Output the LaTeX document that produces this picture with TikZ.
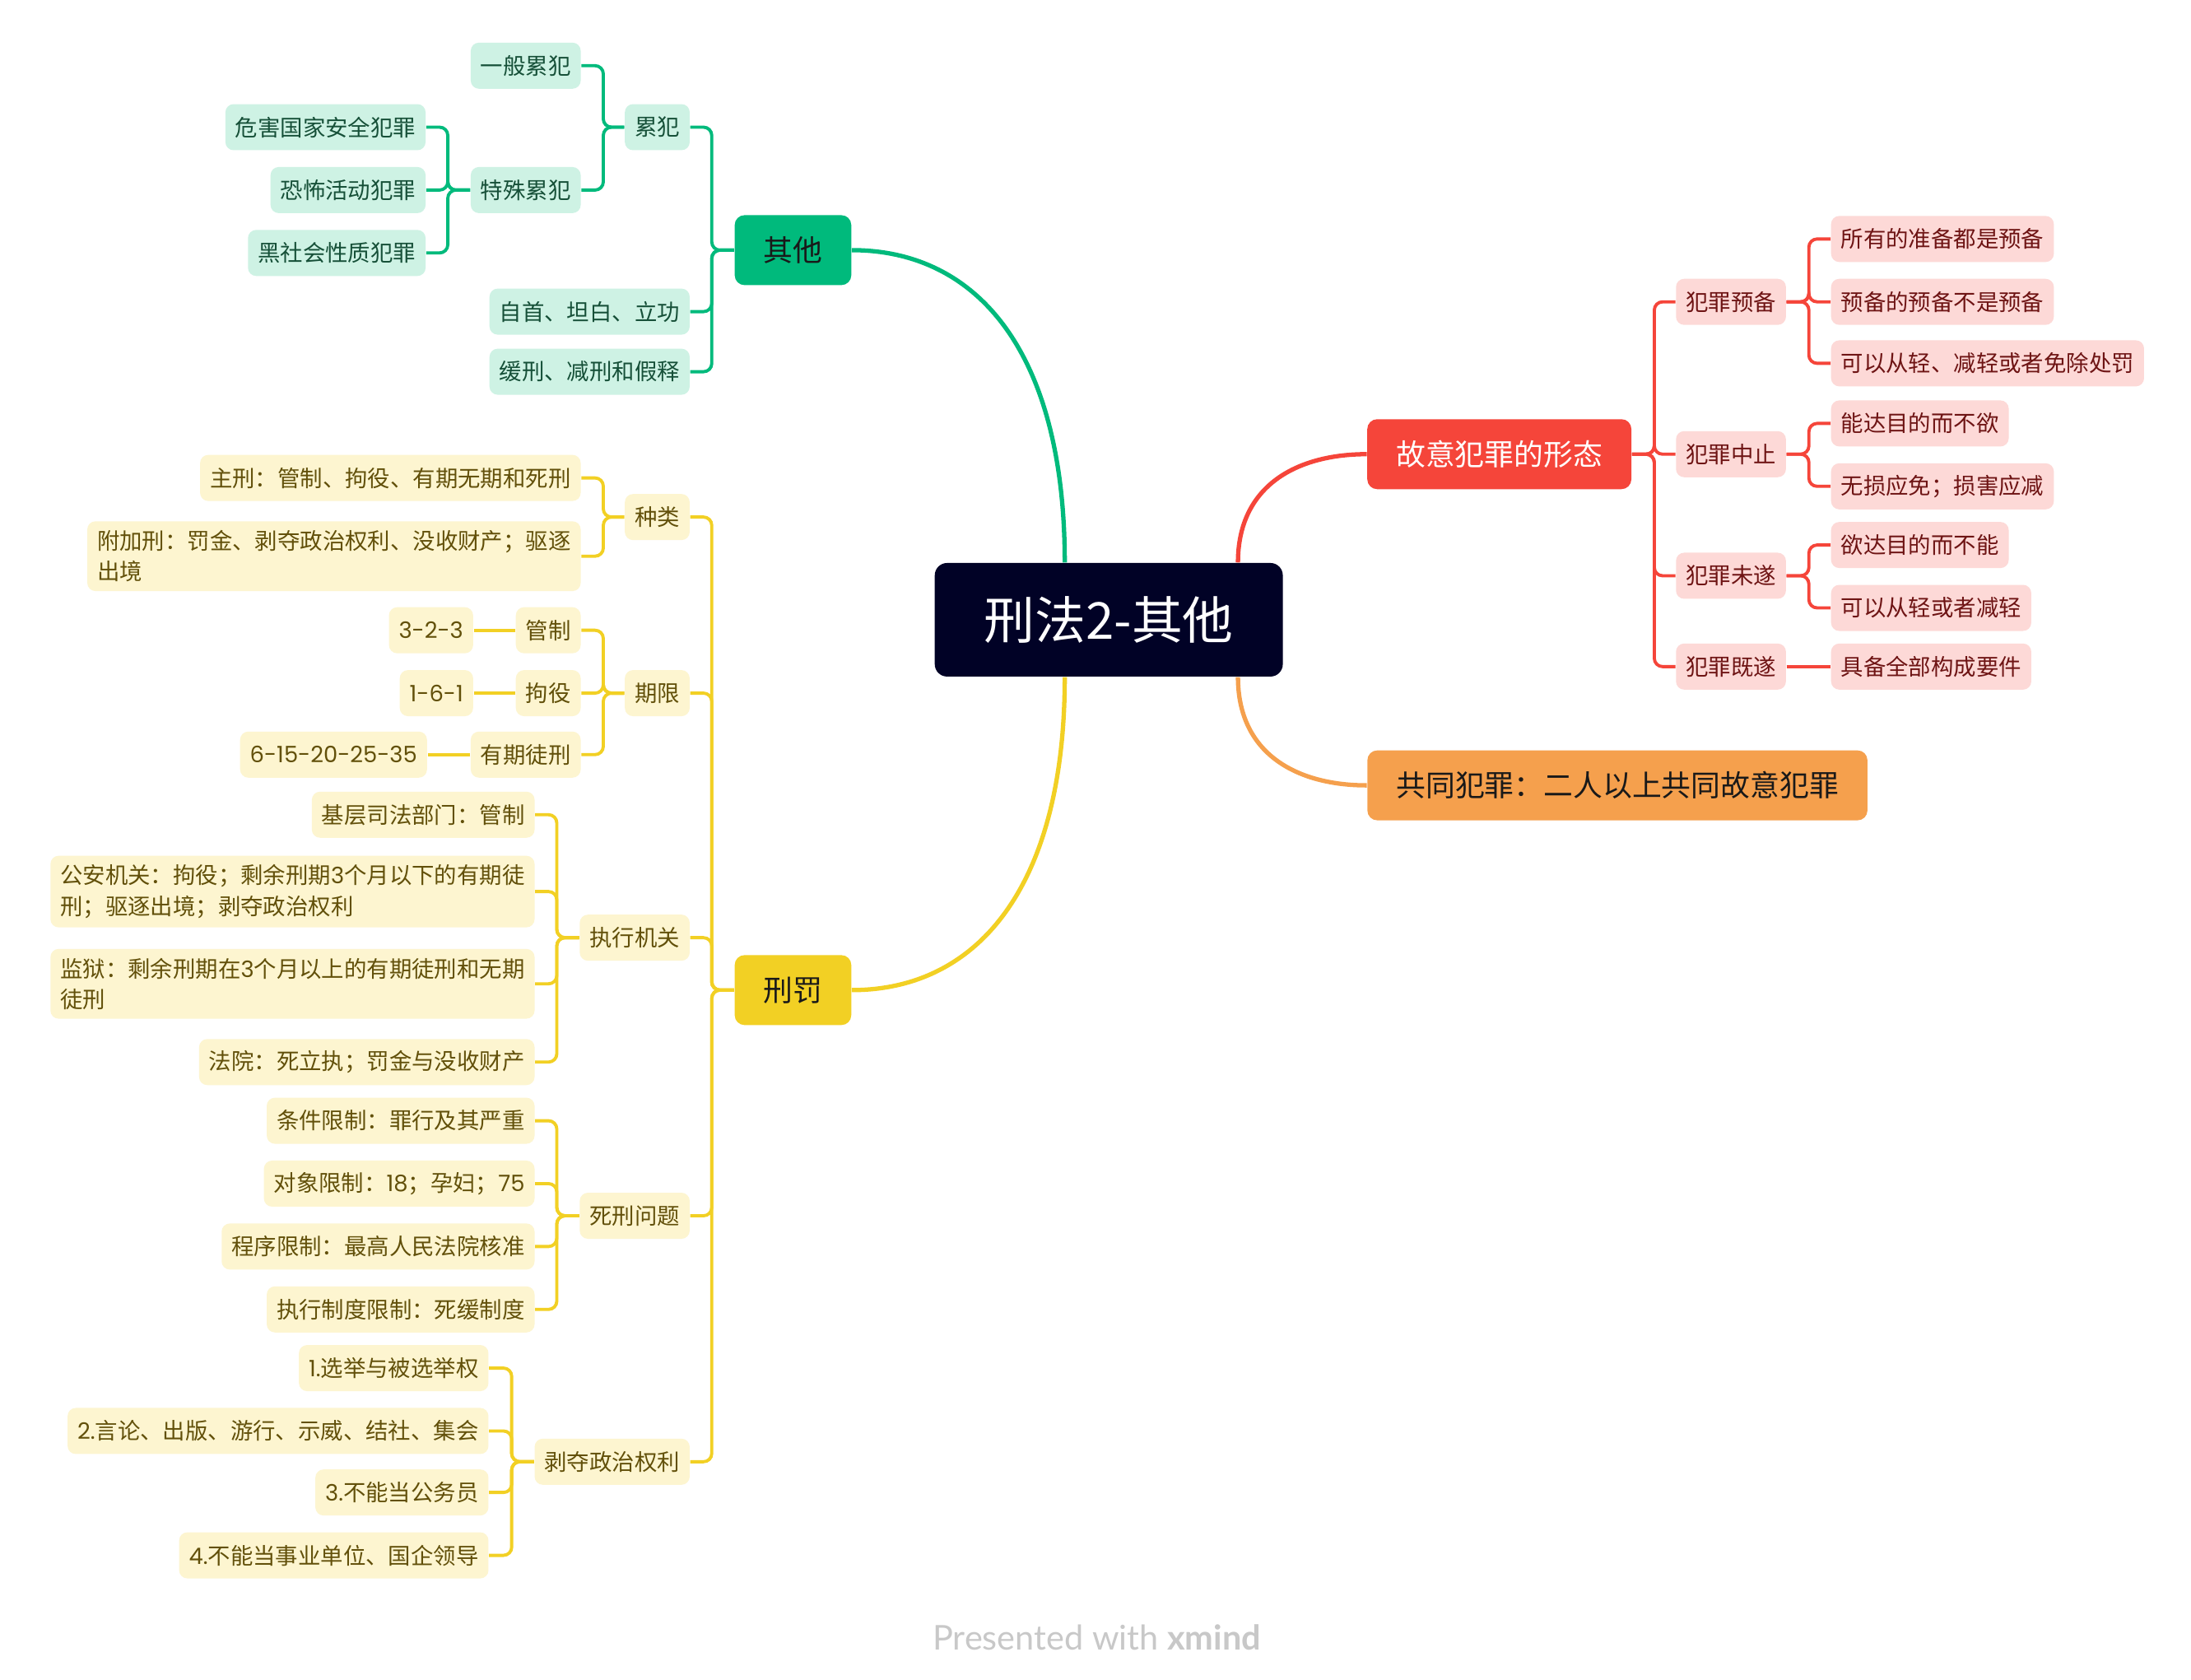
\documentclass[tikz,border=0pt]{standalone}
\usepackage{fontspec}
\setmainfont{Noto Sans CJK SC}
\newfontfamily\wmfont{Lato}
\newfontfamily\numfont{Poppins}
\newcommand{\nm}[1]{{\numfont #1}}
\definecolor{navy}{RGB}{1,2,38}
\definecolor{gmain}{RGB}{0,186,124}
\definecolor{glight}{RGB}{206,242,228}
\definecolor{gtext}{RGB}{22,80,56}
\definecolor{ymain}{RGB}{242,208,36}
\definecolor{ylight}{RGB}{253,245,208}
\definecolor{ytext}{RGB}{98,80,10}
\definecolor{rmain}{RGB}{245,69,58}
\definecolor{rlight}{RGB}{253,217,215}
\definecolor{rtext}{RGB}{110,20,20}
\definecolor{omain}{RGB}{245,160,77}
\definecolor{wmgray}{RGB}{200,200,200}

\begin{document}
\begin{tikzpicture}[
    x=0.016977cm, y=-0.016977cm,
    central/.style={rounded corners=0.15cm, fill=navy, text=white,
                    minimum width=4.23cm, minimum height=1.38cm,
                    font=\fontsize{17.6pt}{20pt}\selectfont},
    topic/.style={rounded corners=0.12cm, minimum height=0.85cm,
                  inner xsep=0.35cm, text=black!90,
                  font=\fontsize{10.2pt}{12pt}\selectfont},
    leaf/.style={rounded corners=0.1cm, minimum height=0.56cm,
                 inner xsep=0.12cm, inner ysep=0.11cm, align=left,
                 font=\fontsize{7.8pt}{10.6pt}\selectfont},
    gleaf/.style={leaf, fill=glight, text=gtext, anchor=east},
    yleaf/.style={leaf, fill=ylight, text=ytext, anchor=east},
    rleaf/.style={leaf, fill=rlight, text=rtext, anchor=west},
    gline/.style={draw=gmain, line width=1.1pt, rounded corners=0.1cm},
    yline/.style={draw=ymain, line width=1.1pt, rounded corners=0.1cm},
    rline/.style={draw=rmain, line width=1.1pt, rounded corners=0.1cm}]
  \useasboundingbox (0,0) rectangle (1568,1202);
  \fill[white] (0,0) rectangle (1568,1202);

  % root and main topics
  \node[central] (ctr) at (793.5,443.5) {刑法2-其他};
  \node[topic, fill=gmain] (qt) at (567.5,179) {其他};
  \node[topic, fill=ymain] (xf) at (567.5,708.5) {刑罚};
  \node[topic, fill=rmain, text=white] (gy) at (1073,325) {故意犯罪的形态};
  \node[topic, fill=omain] (gt) at (1157.5,562) {共同犯罪：二人以上共同故意犯罪};

  \draw[gmain, line width=1.5pt] ([xshift=-0.535cm]ctr.north)
    .. controls +(0,-150) and +(90,0) .. (qt.east);
  \draw[ymain, line width=1.5pt] ([xshift=-0.535cm]ctr.south)
    .. controls +(0,150) and +(90,0) .. (xf.east);
  \draw[rmain, line width=1.5pt] ([xshift=1.57cm]ctr.north)
    .. controls +(0,-55) and +(-50,0) .. (gy.west);
  \draw[omain, line width=1.5pt] ([xshift=1.57cm]ctr.south)
    .. controls +(0,55) and +(-50,0) .. (gt.west);

  % 其他
  \node[gleaf] (lf) at (494,91) {累犯};
  \node[gleaf] (lfa) at (416,47) {一般累犯};
  \node[gleaf] (lfb) at (416,136) {特殊累犯};
  \node[gleaf] (lfb1) at (305,91) {危害国家安全犯罪};
  \node[gleaf] (lfb2) at (305,136) {恐怖活动犯罪};
  \node[gleaf] (lfb3) at (305,181) {黑社会性质犯罪};
  \node[gleaf] (zs) at (494,223) {自首、坦白、立功};
  \node[gleaf] (hx) at (494,266) {缓刑、减刑和假释};
  \foreach \c in {lf,zs,hx}
    \draw[gline] (qt.west) -- ++(-16,0) |- (\c.east);
  \foreach \c in {lfa,lfb}
    \draw[gline] (lf.west) -- ++(-15,0) |- (\c.east);
  \foreach \c in {lfb1,lfb2,lfb3}
    \draw[gline] (lfb.west) -- ++(-16,0) |- (\c.east);

  % 刑罚
  \node[yleaf] (zl) at (494,370) {种类};
  \node[yleaf] (zl1) at (416,342) {主刑：管制、拘役、有期无期和死刑};
  \node[yleaf] (zl2) at (416,398) {附加刑：罚金、剥夺政治权利、没收财产；驱逐\\出境};
  \node[yleaf] (qx) at (494,496) {期限};
  \node[yleaf] (qx1) at (416,451) {管制};
  \node[yleaf] (qx1v) at (339,451) {\nm{3-2-3}};
  \node[yleaf] (qx2) at (416,496) {拘役};
  \node[yleaf] (qx2v) at (339,496) {\nm{1-6-1}};
  \node[yleaf] (qx3) at (416,540) {有期徒刑};
  \node[yleaf] (qx3v) at (306,540) {\nm{6-15-20-25-35}};
  \node[yleaf] (jg) at (494,671) {执行机关};
  \node[yleaf] (jg1) at (383,583) {基层司法部门：管制};
  \node[yleaf] (jg2) at (383,638) {公安机关：拘役；剩余刑期\nm{3}个月以下的有期徒\\刑；驱逐出境；剥夺政治权利};
  \node[yleaf] (jg3) at (383,704) {监狱：剩余刑期在\nm{3}个月以上的有期徒刑和无期\\徒刑};
  \node[yleaf] (jg4) at (383,760) {法院：死立执；罚金与没收财产};
  \node[yleaf] (sx) at (494,870) {死刑问题};
  \node[yleaf] (sx1) at (383,802) {条件限制：罪行及其严重};
  \node[yleaf] (sx2) at (383,847) {对象限制：\nm{18}；孕妇；\nm{75}};
  \node[yleaf] (sx3) at (383,892) {程序限制：最高人民法院核准};
  \node[yleaf] (sx4) at (383,937) {执行制度限制：死缓制度};
  \node[yleaf] (bd) at (494,1046) {剥夺政治权利};
  \node[yleaf] (bd1) at (350,979) {\nm{1.}选举与被选举权};
  \node[yleaf] (bd2) at (350,1024) {\nm{2.}言论、出版、游行、示威、结社、集会};
  \node[yleaf] (bd3) at (350,1068) {\nm{3.}不能当公务员};
  \node[yleaf] (bd4) at (350,1113) {\nm{4.}不能当事业单位、国企领导};
  \foreach \c in {zl,qx,jg,sx,bd}
    \draw[yline] (xf.west) -- ++(-16,0) |- (\c.east);
  \foreach \c in {zl1,zl2}
    \draw[yline] (zl.west) -- ++(-15,0) |- (\c.east);
  \foreach \c in {qx1,qx2,qx3}
    \draw[yline] (qx.west) -- ++(-15,0) |- (\c.east);
  \foreach \c in {qx1,qx2,qx3}
    \draw[yline] (\c.west) -- (\c v.east);
  \foreach \c in {jg1,jg2,jg3,jg4}
    \draw[yline] (jg.west) -- ++(-16,0) |- (\c.east);
  \foreach \c in {sx1,sx2,sx3,sx4}
    \draw[yline] (sx.west) -- ++(-16,0) |- (\c.east);
  \foreach \c in {bd1,bd2,bd3,bd4}
    \draw[yline] (bd.west) -- ++(-16,0) |- (\c.east);

  % 故意犯罪的形态
  \node[rleaf] (yb) at (1199,216) {犯罪预备};
  \node[rleaf] (yb1) at (1310,171) {所有的准备都是预备};
  \node[rleaf] (yb2) at (1310,216) {预备的预备不是预备};
  \node[rleaf] (yb3) at (1310,260) {可以从轻、减轻或者免除处罚};
  \node[rleaf] (zz) at (1199,325) {犯罪中止};
  \node[rleaf] (zz1) at (1310,303) {能达目的而不欲};
  \node[rleaf] (zz2) at (1310,348) {无损应免；损害应减};
  \node[rleaf] (ws) at (1199,412) {犯罪未遂};
  \node[rleaf] (ws1) at (1310,390) {欲达目的而不能};
  \node[rleaf] (ws2) at (1310,435) {可以从轻或者减轻};
  \node[rleaf] (jsu) at (1199,477) {犯罪既遂};
  \node[rleaf] (jsu1) at (1310,477) {具备全部构成要件};
  \foreach \c in {yb,zz,ws,jsu}
    \draw[rline] (gy.east) -- ++(16,0) |- (\c.west);
  \foreach \c in {yb1,yb2,yb3}
    \draw[rline] (yb.east) -- ++(16,0) |- (\c.west);
  \foreach \c in {zz1,zz2}
    \draw[rline] (zz.east) -- ++(16,0) |- (\c.west);
  \foreach \c in {ws1,ws2}
    \draw[rline] (ws.east) -- ++(16,0) |- (\c.west);
  \draw[rline] (jsu.east) -- (jsu1.west);

  \node[font=\wmfont\fontsize{11.8pt}{13pt}\selectfont, text=wmgray] (wm)
    at (785,1172) {Presented with \textbf{xmind}};
\end{tikzpicture}
\end{document}
